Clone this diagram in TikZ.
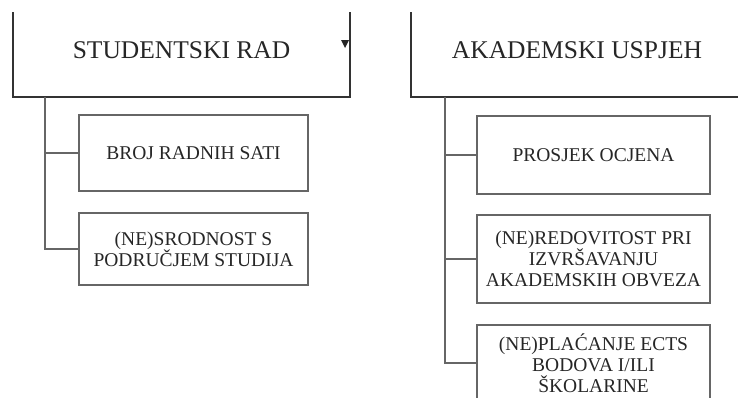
\documentclass[tikz,border=0pt]{standalone}
\usepackage{fontspec}
\setmainfont{Liberation Serif}
\usetikzlibrary{positioning}

\begin{document}
\begin{tikzpicture}[x=1pt, y=-1pt,
  topbox/.style={draw=black!80, line width=1.8pt, minimum width=337pt,
    minimum height=94pt, inner sep=0pt, text=black!85,
    font=\fontsize{25.5}{27}\selectfont},
  subbox/.style={draw=black!60, line width=1.5pt, minimum width=229pt,
    inner sep=0pt, align=center, text=black!85,
    font=\fontsize{19.5}{21}\selectfont},
  branch/.style={draw=black!60, line width=1.8pt}]
  % Frame of the picture
  \useasboundingbox (0,0) rectangle (738,397);
  \clip (0,12) rectangle (738,397);

  % Top boxes (cut off at the frame)
  \node[topbox] (studrad) at (181.5,50) {STUDENTSKI RAD};
  \node[topbox, minimum width=332pt] (akusp) at (577,50) {AKADEMSKI USPJEH};

  % little marker inside the left box
  \fill[black!85] (341,40) -- (349,40) -- (345,48) -- cycle;

  % Left group
  \node[subbox, minimum height=76pt] (broj) at (193.5,153) {BROJ RADNIH SATI};
  \node[subbox, minimum height=72pt] (srodnost) at (193.5,249)
    {(NE)SRODNOST S\\PODRUČJEM STUDIJA};

  % Right group
  \node[subbox, minimum width=233pt, minimum height=78pt] (prosjek) at (593.5,155)
    {PROSJEK OCJENA};
  \node[subbox, minimum width=233pt, minimum height=88pt] (redovit) at (593.5,259)
    {(NE)REDOVITOST PRI\\IZVRŠAVANJU\\AKADEMSKIH OBVEZA};
  \node[subbox, minimum width=233pt, minimum height=76pt] (placanje) at (593.5,363)
    {(NE)PLAĆANJE ECTS\\BODOVA I/ILI\\ŠKOLARINE};

  % Tree lines
  \coordinate (srstem) at (45,97);
  \coordinate (usstem) at (445,97);
  \draw[branch] (srstem) |- (srodnost.west);
  \draw[branch] (broj.west) -- (broj.west -| srstem);
  \draw[branch] (usstem) |- (placanje.west);
  \draw[branch] (prosjek.west) -- (prosjek.west -| usstem);
  \draw[branch] (redovit.west) -- (redovit.west -| usstem);
\end{tikzpicture}
\end{document}
